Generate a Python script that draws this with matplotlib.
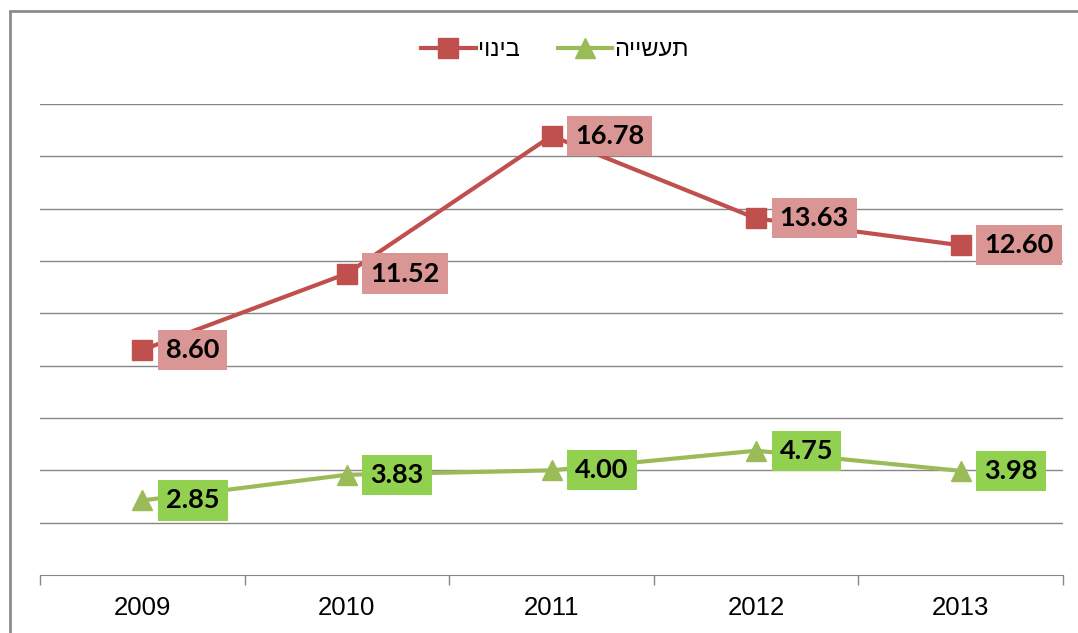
import matplotlib
matplotlib.use("Agg")
import matplotlib.pyplot as plt
from matplotlib.patches import Rectangle

years = ["2009", "2010", "2011", "2012", "2013"]
construction = [8.60, 11.52, 16.78, 13.63, 12.60]
industry = [2.85, 3.83, 4.00, 4.75, 3.98]
label_construction = "בינוי"
label_industry = "תעשייה"

def rtl(s):
    return s[::-1]

W, H = 1078, 633
fig = plt.figure(figsize=(W / 100, H / 100), dpi=100)
ax = fig.add_axes([40 / W, (H - 575) / H, (1063 - 40) / W, (575 - 104) / H])

x = list(range(len(years)))
red = "#C0504D"
green = "#9BBB59"
ax.plot(x, construction, color=red, lw=3, marker="s", ms=15, label=rtl(label_construction), zorder=3)
ax.plot(x, industry, color=green, lw=3, marker="^", ms=15, label=rtl(label_industry), zorder=3)

for xi, v in zip(x, construction):
    ax.annotate(f"{v:.2f}", (xi, v), xytext=(17, 0), textcoords="offset points",
                ha="left", va="center", fontsize=19.5, fontweight="bold", family="Lato",
                bbox=dict(boxstyle="square,pad=0.3", fc="#D99694", ec="none"), zorder=4)
for xi, v in zip(x, industry):
    ax.annotate(f"{v:.2f}", (xi, v), xytext=(17, 0), textcoords="offset points",
                ha="left", va="center", fontsize=19.5, fontweight="bold", family="Lato",
                bbox=dict(boxstyle="square,pad=0.3", fc="#92D050", ec="none"), zorder=4)

ax.set_xlim(-0.5, len(years) - 0.5)
ax.set_ylim(0, 18)
ax.set_yticks(range(2, 19, 2))
ax.yaxis.grid(True, color="#868686", lw=1)
ax.set_axisbelow(True)
ax.tick_params(axis="y", left=False, labelleft=False)
ax.set_xticks(x)
ax.set_xticklabels(years, fontsize=18.5, family="Liberation Sans")
ax.tick_params(axis="x", length=0, pad=15)
ax.set_xticks([i - 0.5 for i in range(len(years) + 1)], minor=True)
ax.tick_params(axis="x", which="minor", length=7, color="#868686", width=1, direction="out")
for s in ["left", "right", "top"]:
    ax.spines[s].set_visible(False)
ax.spines["bottom"].set_color("#868686")

leg = fig.legend(loc="center", bbox_to_anchor=(555 / W, (H - 50) / H), ncol=2, frameon=False,
                 prop={"family": "Liberation Sans", "size": 17}, handlelength=2.3,
                 columnspacing=1.6, handletextpad=0.1)

fig.patches.append(Rectangle((10 / W, -0.1), 1.2, (H - 11) / H + 0.1, transform=fig.transFigure,
                             fill=False, ec="#8c8c8c", lw=2))

fig.savefig("out.png", dpi=100)
